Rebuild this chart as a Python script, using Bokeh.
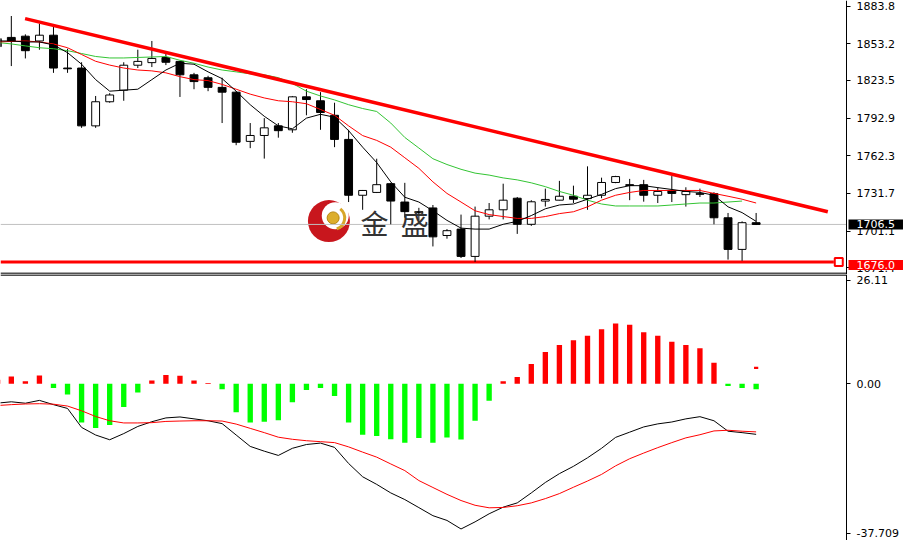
from bokeh.plotting import figure
from bokeh.layouts import column
from bokeh.models import Range1d, FixedTicker, Label
from bokeh.embed import file_html
from bokeh.resources import INLINE

# ---------------- data ----------------
first_bar = -1
opens = [1857.5, 1858.5, 1859.5, 1855.6, 1860.3, 1833.6, 1833.6, 1786.6, 1806.2, 1815.6,
         1835.9, 1838.0, 1842.2, 1839.0, 1828.1, 1825.7, 1817.9, 1814.0, 1774.0, 1778.8,
         1786.6, 1783.4, 1810.2, 1807.0, 1795.2, 1775.6, 1730.2, 1732.5, 1739.6, 1724.7,
         1716.9, 1719.9, 1697.5, 1702.7, 1680.5, 1713.2, 1718.4, 1727.8, 1706.6, 1725.5,
         1726.2, 1729.4, 1727.5, 1730.2, 1740.6, 1738.8, 1738.8, 1730.2, 1734.1, 1730.7,
         1731.5, 1731.5, 1711.9, 1686.2, 1707.9]
highs = [1860.0, 1875.9, 1861.0, 1869.7, 1867.3, 1849.3, 1838.3, 1810.9, 1813.2, 1838.3,
         1848.5, 1855.6, 1845.4, 1839.5, 1829.7, 1827.3, 1825.7, 1814.8, 1788.9, 1792.9,
         1788.9, 1810.9, 1816.4, 1814.0, 1805.4, 1783.4, 1734.5, 1759.9, 1740.3, 1740.3,
         1720.0, 1722.3, 1702.7, 1714.5, 1721.0, 1723.9, 1739.6, 1728.8, 1726.2, 1735.6,
         1741.9, 1738.0, 1753.7, 1744.5, 1746.0, 1743.5, 1742.7, 1736.7, 1745.8, 1736.7,
         1735.6, 1732.7, 1715.8, 1709.0, 1715.8]
lows = [1846.0, 1835.2, 1841.4, 1848.5, 1829.7, 1829.7, 1785.0, 1785.0, 1805.4, 1807.0,
        1833.6, 1834.4, 1836.0, 1810.1, 1816.4, 1814.8, 1788.9, 1770.9, 1768.5, 1760.0,
        1777.0, 1781.0, 1795.2, 1783.4, 1769.3, 1724.7, 1718.4, 1732.0, 1706.6, 1712.0,
        1710.0, 1688.6, 1694.9, 1679.2, 1676.0, 1710.6, 1710.6, 1698.8, 1705.3, 1721.0,
        1726.0, 1723.9, 1718.4, 1727.8, 1740.0, 1726.2, 1725.0, 1723.9, 1724.7, 1721.0,
        1728.8, 1706.6, 1677.9, 1676.9, 1706.0]
closes = [1851.0, 1855.5, 1847.7, 1860.3, 1833.6, 1833.0, 1786.6, 1806.2, 1811.7, 1835.9,
          1839.0, 1841.4, 1838.3, 1828.1, 1822.6, 1817.9, 1814.0, 1773.3, 1778.8, 1785.0,
          1782.7, 1810.2, 1808.0, 1797.5, 1775.6, 1730.2, 1734.1, 1738.8, 1725.5, 1716.9,
          1716.0, 1696.4, 1701.4, 1680.5, 1713.2, 1718.4, 1726.2, 1706.6, 1724.9, 1726.8,
          1729.4, 1727.0, 1730.2, 1740.6, 1745.4, 1738.2, 1730.2, 1733.3, 1731.7, 1733.3,
          1731.0, 1711.9, 1686.2, 1707.9, 1706.5]

ma_fast = [1855.6, 1855.6, 1854.8, 1854.8, 1852.4, 1846.1, 1836.7, 1824.2, 1814.8, 1815.6,
           1816.4, 1824.2, 1832.0, 1837.5, 1836.7, 1830.5, 1825.0, 1814.8, 1803.8, 1794.4,
           1786.6, 1784.2, 1792.9, 1796.0, 1793.6, 1782.7, 1769.3, 1756.8, 1741.1, 1728.6,
           1724.7, 1717.6, 1709.8, 1703.5, 1702.7, 1702.7, 1706.6, 1709.0, 1713.7, 1719.2,
           1722.3, 1723.1, 1727.0, 1730.9, 1735.6, 1738.0, 1738.0, 1736.4, 1734.9, 1733.3,
           1732.5, 1730.2, 1720.8, 1716.1, 1709.0]
ma_mid = [1854.8, 1855.2, 1855.6, 1854.8, 1853.2, 1850.1, 1844.6, 1839.1, 1836.0, 1833.6,
          1832.0, 1831.3, 1829.7, 1826.6, 1824.2, 1823.4, 1820.3, 1816.4, 1812.4, 1809.3,
          1807.0, 1806.2, 1804.6, 1799.9, 1795.2, 1786.6, 1778.7, 1774.8, 1769.3, 1760.7,
          1752.1, 1741.1, 1731.7, 1724.7, 1717.6, 1714.5, 1712.9, 1711.4, 1711.4, 1712.9,
          1715.3, 1716.8, 1720.8, 1726.2, 1730.2, 1732.5, 1734.1, 1734.1, 1734.1, 1734.1,
          1734.1, 1731.7, 1729.4, 1727.0, 1723.9]
ma_slow = [1854.4, 1853.2, 1851.6, 1850.1, 1849.3, 1847.7, 1845.4, 1843.0, 1841.8, 1841.8,
           1842.2, 1842.6, 1843.0, 1839.9, 1837.5, 1834.4, 1832.0, 1830.5, 1828.9, 1828.1,
           1825.8, 1821.1, 1814.8, 1810.9, 1807.7, 1803.8, 1800.7, 1798.3, 1788.9, 1777.2,
           1768.6, 1759.9, 1755.2, 1751.3, 1748.2, 1746.6, 1744.3, 1742.7, 1740.3, 1737.2,
           1733.3, 1730.2, 1726.2, 1723.1, 1721.5, 1721.5, 1721.5, 1721.5, 1722.3, 1723.1,
           1723.9, 1723.9, 1724.7, 1725.5, float("nan")]

macd_hist = [1.0, 1.85, 0.65, 2.1, -1.1, -2.7, -9.8, -11.2, -10.4, -5.9,
             -2.2, 0.8, 2.2, 2.0, 0.8, 0.2, -1.4, -7.2, -9.8, -9.6,
             -9.2, -4.7, -1.6, -1.1, -3.1, -9.8, -12.9, -13.2, -14.0, -14.9,
             -13.7, -14.9, -13.6, -14.1, -9.35, -4.3, 0.65, 1.7, 5.0, 8.0,
             9.8, 11.0, 12.1, 13.8, 15.2, 14.9, 13.0, 12.1, 10.6, 9.8,
             9.0, 5.3, -0.55, -1.1, -1.4]
macd_dif = [-4.9, -4.56, -4.92, -4.20, -5.28, -6.24, -11.03, -12.95, -14.15, -12.59,
            -10.79, -9.59, -8.63, -8.39, -8.87, -9.35, -10.07, -12.95, -15.83, -17.03,
            -18.11, -16.31, -15.35, -14.99, -16.07, -20.14, -23.50, -25.42, -27.58, -29.26,
            -31.29, -33.33, -34.53, -36.69, -34.89, -32.85, -31.18, -30.10, -27.58, -24.94,
            -22.71, -20.86, -18.71, -16.31, -13.55, -12.23, -10.91, -10.14, -9.66, -8.87,
            -8.32, -9.35, -11.99, -12.35, -12.78]
macd_dea = [-5.5, -5.28, -5.11, -5.04, -5.16, -5.64, -6.83, -8.27, -9.35, -9.90,
            -9.90, -9.83, -9.52, -9.42, -9.35, -9.35, -9.42, -10.19, -11.27, -12.35,
            -13.50, -14.03, -14.39, -14.63, -14.87, -15.95, -17.27, -18.54, -20.26, -21.94,
            -24.46, -26.21, -27.94, -29.50, -30.70, -31.34, -31.25, -30.82, -30.10, -29.02,
            -27.75, -26.14, -24.58, -22.90, -20.74, -18.94, -17.51, -16.14, -14.87, -13.67,
            -12.88, -11.92, -11.75, -11.99, -12.16]
macd_mark_value = 4.0

trend_bars = [0.98, 58.1]
trend_prices = [1873.8, 1716.8]
support_level = 1676.0
last_price = 1706.5

price_ticks = [1883.8, 1853.2, 1823.5, 1792.9, 1762.3, 1731.7, 1701.1, 1671.4]
price_tick_labels = ["1883.8", "1853.2", "1823.5", "1792.9", "1762.3", "1731.7", "1701.1", "1671.4"]
macd_ticks = [26.11, 0.0, -37.709]
macd_tick_labels = ["26.11", "0.00", "-37.709"]

# ---------------- layout constants ----------------
W = 904
AXIS_PX = 846                      # pixel column of the price scale line
X_START, X_AXIS = -0.77, 59.43     # bar units at left edge and at the scale line
X_END = X_START + (X_AXIS - X_START) * W / AXIS_PX
PRICE_LO, PRICE_HI = 1665.8, 1888.5
MACD_LO, MACD_HI = -39.6, 27.6
TICK_FONT = "DejaVu Sans"

bars = list(range(first_bar, first_bar + len(closes)))


def make_panel(height, y_lo, y_hi, x_range=None):
    p = figure(width=W, height=height,
               x_range=x_range if x_range is not None else Range1d(X_START, X_END),
               y_range=Range1d(y_lo, y_hi), y_axis_location="right",
               x_axis_location=None, toolbar_location=None, output_backend="svg",
               min_border_left=0, min_border_right=0, min_border_top=0,
               min_border_bottom=0)
    p.grid.visible = False
    p.outline_line_color = None
    p.background_fill_color = "white"
    p.border_fill_color = "white"
    ax = p.yaxis[0]
    ax.fixed_location = X_AXIS
    ax.axis_line_color = "black"
    ax.axis_line_width = 1
    ax.major_tick_line_color = "black"
    ax.major_tick_out = 4
    ax.major_tick_in = 0
    ax.minor_tick_line_color = None
    ax.major_label_text_font = TICK_FONT
    ax.major_label_text_font_size = "11px"
    ax.major_label_text_color = "black"
    ax.major_label_standoff = 6
    return p


# ---------------- price panel ----------------
p1 = make_panel(274, PRICE_LO, PRICE_HI)
p1.yaxis.ticker = FixedTicker(ticks=price_ticks)
p1.yaxis.major_label_overrides = {t: s for t, s in zip(price_ticks, price_tick_labels)}

# watermark logo (decoration)
LOGO_BAR, LOGO_PRICE = 22.6, 1709.2
p1.scatter([LOGO_BAR], [LOGO_PRICE], marker="circle", size=42,
           fill_color="#c8161d", line_color=None)
p1.scatter([LOGO_BAR + 0.45], [LOGO_PRICE + 4.3], marker="circle", size=27,
           fill_color="white", line_color=None)
p1.annular_wedge(x=LOGO_BAR + 0.3, y=LOGO_PRICE + 2.6, inner_radius=10, outer_radius=13,
                 inner_radius_units="screen", outer_radius_units="screen",
                 start_angle=-1.25, end_angle=0.9, fill_color="#d8a62a", line_color=None)
p1.scatter([LOGO_BAR + 0.3], [LOGO_PRICE + 2.6], marker="circle", size=12,
           fill_color="#dcae2c", line_color="#b8860b", line_width=1)
for ch, bx in (("金", 25.85), ("盛", 28.7)):
    p1.add_layout(Label(x=bx, y=1707.4, text=ch, text_font="Noto Sans CJK SC",
                        text_font_size="28px", text_color="#333333",
                        text_align="center", text_baseline="middle"))

# reference lines (stop at the price scale)
p1.segment(x0=[X_START], y0=[last_price], x1=[X_AXIS], y1=[last_price],
           line_color="#c0c0c0", line_width=1)
p1.segment(x0=[X_START], y0=[support_level], x1=[X_AXIS - 0.9], y1=[support_level],
           line_color="#ff0000", line_width=3)
p1.segment(x0=[X_START], y0=[PRICE_LO], x1=[X_AXIS], y1=[PRICE_LO],
           line_color="#505050", line_width=4)

# candles
body_lo = [min(o, c) for o, c in zip(opens, closes)]
body_hi = [max(o, c) for o, c in zip(opens, closes)]
body_col = ["white" if c > o else "black" for o, c in zip(opens, closes)]
p1.segment(x0=bars, y0=lows, x1=bars, y1=highs, line_color="black", line_width=1)
p1.vbar(x=bars, bottom=body_lo, top=body_hi, width=0.56, fill_color=body_col,
        line_color="black", line_width=1)

# moving averages
p1.line(bars, ma_slow, line_color="#33c433", line_width=1)
p1.line(bars, ma_mid, line_color="#ff0000", line_width=1)
p1.line(bars, ma_fast, line_color="black", line_width=1)

# trendline
p1.line(trend_bars, trend_prices, line_color="#ff0000", line_width=3.5)

# price labels on the scale
p1.scatter([X_AXIS - 0.55], [support_level], marker="square", size=8,
           fill_color="white", line_color="#ff0000", line_width=2)
p1.add_layout(Label(x=X_AXIS, y=support_level, x_offset=2, y_offset=-3, text="1676.0",
                    text_font=TICK_FONT, text_font_size="11px", text_color="white",
                    background_fill_color="#ff0000", text_baseline="middle",
                    padding=(8, 1)))
p1.add_layout(Label(x=X_AXIS, y=last_price, x_offset=2, text="1706.5",
                    text_font=TICK_FONT, text_font_size="11px", text_color="white",
                    background_fill_color="black", text_baseline="middle",
                    padding=(8, 1)))

# ---------------- MACD panel ----------------
p2 = make_panel(266, MACD_LO, MACD_HI, x_range=p1.x_range)
p2.yaxis.ticker = FixedTicker(ticks=macd_ticks)
p2.yaxis.major_label_overrides = {t: s for t, s in zip(macd_ticks, macd_tick_labels)}
p2.segment(x0=[X_START], y0=[MACD_HI], x1=[X_AXIS], y1=[MACD_HI],
           line_color="#505050", line_width=3)

hist_col = ["#ff0000" if v >= 0 else "#00ff00" for v in macd_hist]
p2.vbar(x=bars, bottom=0, top=macd_hist, width=0.38, fill_color=hist_col, line_color=None)
p2.vbar(x=[bars[-1]], bottom=[macd_mark_value - 0.3], top=[macd_mark_value + 0.3],
        width=0.3, fill_color="#ff0000", line_color=None)
p2.line(bars, macd_dif, line_color="black", line_width=1)
p2.line(bars, macd_dea, line_color="#ff0000", line_width=1)

layout = column(p1, p2)
open("out.html", "w").write(file_html(layout, INLINE))
